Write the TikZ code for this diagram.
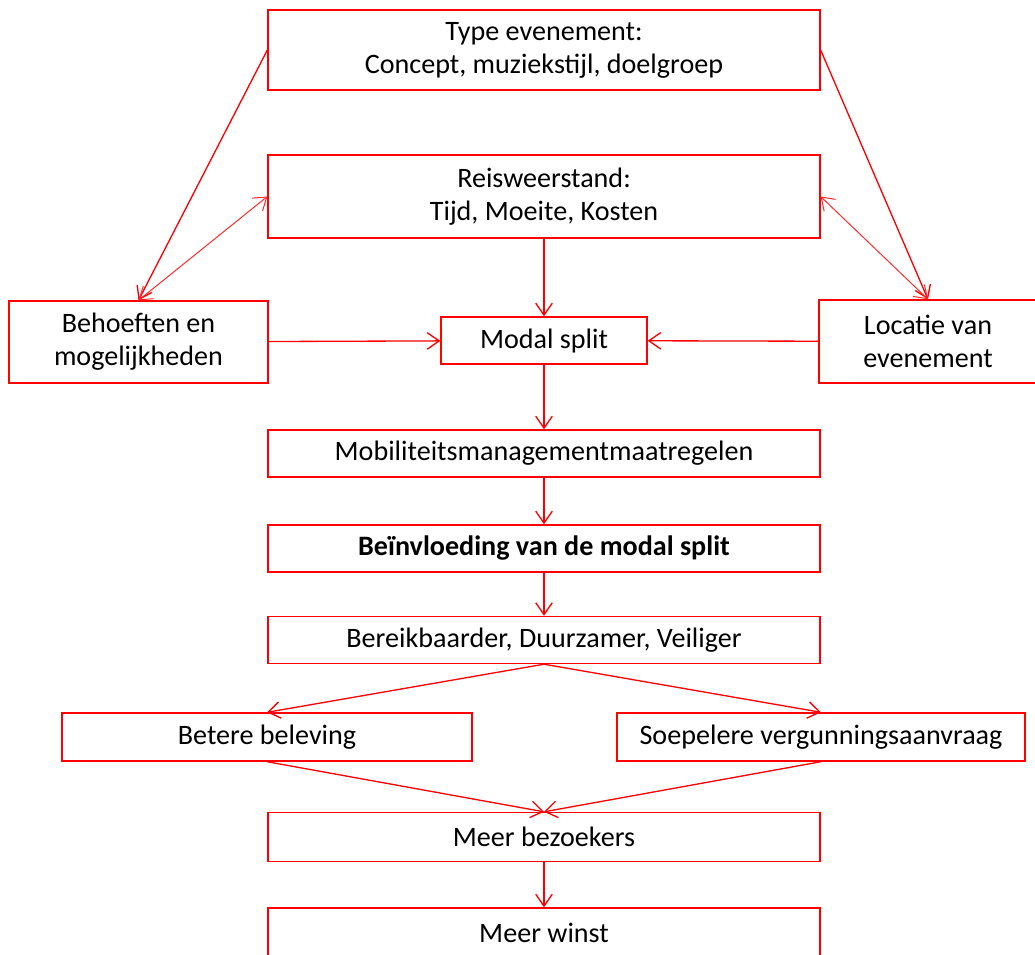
\documentclass[tikz,border=0pt]{standalone}
\usepackage{fontspec}
\setmainfont{Carlito}
\usetikzlibrary{arrows.meta}

\begin{document}
\begin{tikzpicture}
        [x=0.02cm, y=-0.02cm,
         every node/.style={draw=red, line width=0.8pt, inner sep=0, align=center, text=black, font=\fontsize{16}{18.7}\selectfont},
         wide/.style={minimum width=11.04cm, minimum height=0.94cm},
         link/.style={red, line width=0.75pt, -{Straight Barb[length=6.8pt,width=9.4pt]}},
         twoway/.style={red!85, line width=0.55pt, {Straight Barb[length=6.8pt,width=9.4pt]}-{Straight Barb[length=6.8pt,width=9.4pt]}}]

        \useasboundingbox (0,0) rectangle (1035,954);

        \node[wide, minimum height=1.6cm] (type) at (544, 50) {Type evenement:\\Concept, muziekstijl, doelgroep};
        \node[wide, minimum height=1.66cm] (reis) at (544, 196.5) {Reisweerstand:\\Tijd, Moeite, Kosten};
        \node[minimum width=5.18cm, minimum height=1.64cm] (behoefte) at (138.5, 342) {Behoeften en\\mogelijkheden};
        \node[minimum width=4.12cm, minimum height=0.94cm] (modal) at (544, 340.5) {Modal split};
        \node[minimum width=4.36cm, minimum height=1.66cm] (locatie) at (928, 341.5) {Locatie van\\evenement};
        \node[wide] (mobi) at (544, 453.5) {Mobiliteitsmanagementmaatregelen};
        \node[wide] (invloed) at (544, 548.5) {\bfseries Beïnvloeding van de modal split};
        \node[wide] (bereik) at (544, 640) {Bereikbaarder, Duurzamer, Veiliger};
        \node[minimum width=8.2cm, minimum height=0.96cm] (beleving) at (267, 737) {Betere beleving};
        \node[minimum width=8.16cm, minimum height=0.96cm] (vergunning) at (821, 737) {Soepelere vergunningsaanvraag};
        \node[wide, minimum height=0.98cm] (bezoekers) at (544, 837) {Meer bezoekers};
        \node[wide, minimum height=1.0cm] (winst) at (544, 933) {Meer winst};

        \draw[link] (type.west) -- (behoefte.north);
        \draw[link] (type.east) -- (locatie.north);
        \draw[twoway] (behoefte.north) -- (reis.west);
        \draw[twoway] (locatie.north) -- (reis.east);
        \draw[link] (reis) -- (modal);
        \draw[link] (behoefte) -- (modal);
        \draw[link] (locatie) -- (modal);
        \draw[link] (modal) -- (mobi);
        \draw[link] (mobi) -- (invloed);
        \draw[link] (invloed) -- (bereik);
        \draw[link] (bereik.south) -- (beleving.north);
        \draw[link] (bereik.south) -- (vergunning.north);
        \draw[link] (beleving.south) -- (bezoekers.north);
        \draw[link] (vergunning.south) -- (bezoekers.north);
        \draw[link] (bezoekers) -- (winst);
      \end{tikzpicture}
\end{document}
